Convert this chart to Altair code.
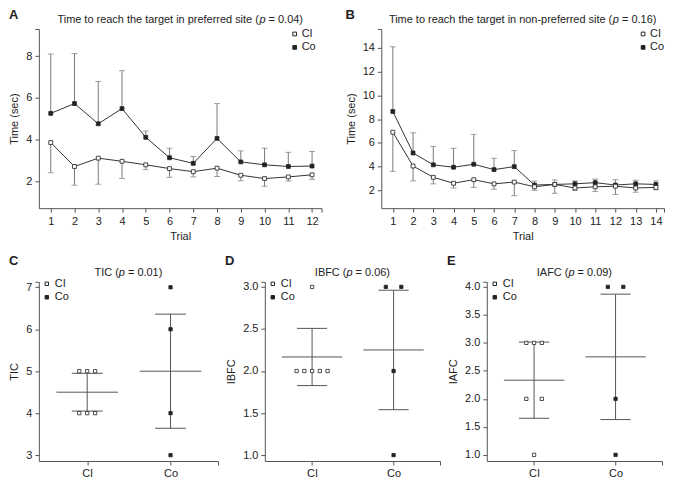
import altair as alt
import pandas as pd

FONT = "Liberation Sans"
DARK = "#222222"
LINE = "#333333"
ERR = "#7a7a7a"
AXIS = "#555555"

# ---------------- data ----------------
groups = ["CI", "Co"]

trials_a = list(range(1, 13))
a_co_mean = [5.25, 5.72, 4.75, 5.48, 4.10, 3.12, 2.85, 4.05, 2.92, 2.78, 2.70, 2.72]
a_co_upper = [8.10, 8.12, 6.78, 7.30, 4.40, 3.58, 3.18, 5.72, 3.45, 3.58, 3.38, 3.42]
a_ci_mean = [3.85, 2.70, 3.10, 2.95, 2.78, 2.60, 2.45, 2.62, 2.28, 2.12, 2.20, 2.30]
a_ci_lower = [2.40, 1.80, 1.85, 2.12, 2.55, 2.18, 2.20, 2.22, 2.02, 1.75, 2.00, 2.08]

trials_b = list(range(1, 15))
b_co_mean = [8.65, 5.15, 4.15, 3.95, 4.20, 3.75, 4.00, 2.45, 2.50, 2.55, 2.65, 2.45, 2.55, 2.50]
b_co_upper = [14.10, 6.85, 5.70, 5.55, 6.72, 4.70, 5.35, 2.78, 2.88, 2.80, 2.95, 2.90, 2.85, 2.80]
b_ci_mean = [6.90, 4.05, 3.10, 2.60, 2.90, 2.55, 2.70, 2.30, 2.50, 2.20, 2.30, 2.35, 2.20, 2.25]
b_ci_lower = [3.60, 2.80, 2.55, 2.20, 2.25, 2.10, 1.55, 2.00, 1.75, 2.00, 1.90, 1.65, 1.85, 2.05]

tic_ci = [5, 5, 5, 4, 4, 4]
tic_co = [7, 6, 4, 3]
tic_err = [0.45, 1.36]

ibfc_ci = [3, 2, 2, 2, 2, 2]
ibfc_co = [3, 3, 2, 1]
ibfc_err = [0.34, 0.71]

iafc_ci = [3, 3, 3, 2, 2, 1]
iafc_co = [4, 4, 2, 1]
iafc_err = [0.68, 1.12]

# --------------- helpers ---------------
ARIAL = {
    " ": 278, "T": 611, "i": 222, "m": 833, "e": 556, "t": 278, "o": 556, "r": 333,
    "a": 556, "c": 500, "h": 556, "g": 556, "n": 556, "p": 556, "f": 278, "d": 556,
    "s": 500, "(": 333, ")": 333, "=": 584, ".": 278, "-": 333, "C": 722, "I": 278,
    "B": 667, "F": 611, "A": 667, "l": 222,
}


def tw(s, size=11):
    return sum(ARIAL.get(ch, 556) for ch in s) * size / 1000.0


def txt(s, x, y, align="left", baseline="alphabetic", size=11, weight="normal", style="normal"):
    return alt.Chart(pd.DataFrame({"t": [s]})).mark_text(
        align=align, baseline=baseline, fontSize=size, font=FONT, color=DARK,
        fontWeight=weight, fontStyle=style,
    ).encode(x=alt.value(x), y=alt.value(y), text="t:N")


def title_layers(pre, post, center, y):
    post = post.strip()
    w1, wp, ws, w3 = tw(pre), tw("p"), tw(" "), tw(post)
    start = center - (w1 + wp + ws + w3) / 2
    return [
        txt(pre, start, y),
        txt("p", start + w1, y, style="italic"),
        txt(post, start + w1 + wp + ws, y),
    ]


def legend_layers(sq_x, txt_x, y0, dy, size):
    out = []
    for k, g in enumerate(groups):
        fill = "white" if g == "CI" else DARK
        out.append(
            alt.Chart(pd.DataFrame({"g": [g]})).mark_point(
                shape="square", filled=True, fill=fill, stroke=DARK, strokeWidth=1,
                size=size, opacity=1,
            ).encode(x=alt.value(sq_x), y=alt.value(y0 + k * dy))
        )
        out.append(txt(g, txt_x, y0 + k * dy, baseline="middle"))
    return out


def x_axis_trials(n, end, title):
    vals = list(range(1, n + 1)) + [end]
    return alt.Axis(values=vals, title=title,
                    labelExpr=f"datum.value > {n + 0.2} ? '' : datum.label",
                    labelFlush=False, labelOverlap=False, grid=False)


def y_axis(vals, end, title, fmt):
    v = vals + [end]
    return alt.Axis(values=v, title=title,
                    labelExpr=f"datum.value > {vals[-1] + 0.01} ? '' : format(datum.value, '{fmt}')",
                    labelFlush=False, labelOverlap=False, grid=False)


def line_panel(letter, lx, trials, co_m, co_up, ci_m, ci_lo, xdom, ydom, yvals, pre, post, w, h, leg):
    co = pd.DataFrame({"trial": trials, "mean": co_m, "err": co_up})
    ci = pd.DataFrame({"trial": trials, "mean": ci_m, "err": ci_lo})
    xs = alt.Scale(domain=xdom, nice=False, zero=False)
    ys = alt.Scale(domain=ydom, nice=False, zero=False)
    xax = x_axis_trials(len(trials), xdom[1], "Trial")
    yax = y_axis(yvals, ydom[1], "Time (sec)", "d")
    X = alt.X("trial:Q", scale=xs, axis=xax)
    Y = alt.Y("mean:Q", scale=ys, axis=yax)
    layers = []
    for df in (co, ci):
        base = alt.Chart(df)
        layers.append(base.mark_rule(color=ERR, strokeWidth=1).encode(x=X, y=Y, y2="err:Q"))
        layers.append(base.mark_tick(color=ERR, orient="horizontal", size=6, thickness=1).encode(
            x=X, y=alt.Y("err:Q", scale=ys, axis=yax)))
    for df in (co, ci):
        layers.append(alt.Chart(df).mark_line(color=LINE, strokeWidth=1).encode(x=X, y=Y))
    layers.append(alt.Chart(co).mark_point(shape="square", filled=True, fill=DARK, stroke=DARK,
                                            strokeWidth=0.8, size=15, opacity=1).encode(x=X, y=Y))
    layers.append(alt.Chart(ci).mark_point(shape="square", filled=True, fill="white", stroke=LINE,
                                            strokeWidth=0.9, size=15, opacity=1).encode(x=X, y=Y))
    layers += title_layers(pre, post, w / 2, -6.5)
    layers.append(txt(letter, lx, -20, baseline="top", size=13, weight="bold"))
    layers += legend_layers(leg[0], leg[1], 5, 13.5, 14)
    return alt.layer(*layers).properties(width=w, height=h)


def jitter(vals, step=0.095):
    counts = {}
    for v in vals:
        counts[v] = counts.get(v, 0) + 1
    seen = {}
    out = []
    for v in vals:
        n = counts[v]
        i = seen.get(v, 0)
        seen[v] = i + 1
        if n % 2 == 1:
            k = i - (n - 1) / 2
        else:
            k = i - n / 2 + (1 if i >= n / 2 else 0)
        out.append(k * step)
    return out


def scatter_panel(letter, lx, ci_vals, co_vals, errs, ydom, yvals, fmt, ytitle, pre, post, w, h):
    xdom = [0.42, 2.57]
    xs = alt.Scale(domain=xdom, nice=False, zero=False)
    ys = alt.Scale(domain=ydom, nice=False, zero=False)
    lab = f"datum.value == 1 ? '{groups[0]}' : datum.value == 2 ? '{groups[1]}' : ''"
    xax = alt.Axis(values=[1, 2, xdom[1]], title=None, labelExpr=lab, labelFlush=False,
                   labelOverlap=False, grid=False)
    yax = y_axis(yvals, ydom[1], ytitle, fmt)
    pts = []
    for gi, vals in enumerate((ci_vals, co_vals)):
        j = jitter(vals)
        pts.append(pd.DataFrame({"x": [gi + 1 + d for d in j], "v": vals}))
    means = [sum(v) / len(v) for v in (ci_vals, co_vals)]
    st = pd.DataFrame({"gx": [1, 2], "mean": means, "err": errs})
    st["lo"] = st["mean"] - st["err"]
    st["hi"] = st["mean"] + st["err"]
    st["m1"] = st["gx"] - 0.37
    st["m2"] = st["gx"] + 0.37
    st["c1"] = st["gx"] - 0.185
    st["c2"] = st["gx"] + 0.185
    Xg = alt.X("gx:Q", scale=xs, axis=xax)
    base = alt.Chart(st)
    layers = [
        base.mark_rule(color=AXIS, strokeWidth=1).encode(
            x=alt.X("m1:Q", scale=xs, axis=xax), x2="m2:Q",
            y=alt.Y("mean:Q", scale=ys, axis=yax)),
        base.mark_rule(color=AXIS, strokeWidth=1).encode(
            x=Xg, y=alt.Y("lo:Q", scale=ys, axis=yax), y2="hi:Q"),
        base.mark_rule(color=AXIS, strokeWidth=1).encode(
            x=alt.X("c1:Q", scale=xs, axis=xax), x2="c2:Q",
            y=alt.Y("lo:Q", scale=ys, axis=yax)),
        base.mark_rule(color=AXIS, strokeWidth=1).encode(
            x=alt.X("c1:Q", scale=xs, axis=xax), x2="c2:Q",
            y=alt.Y("hi:Q", scale=ys, axis=yax)),
    ]
    for gi, df in enumerate(pts):
        fill = "white" if gi == 0 else DARK
        layers.append(alt.Chart(df).mark_point(shape="square", filled=True, fill=fill, stroke=DARK,
                                                strokeWidth=0.8, size=11, opacity=1).encode(
            x=alt.X("x:Q", scale=xs, axis=xax), y=alt.Y("v:Q", scale=ys, axis=yax)))
    layers += title_layers(pre, post, w / 2, -6)
    layers.append(txt(letter, lx, -27, baseline="top", size=13, weight="bold"))
    layers += legend_layers(8, 16, 2, 13.5, 12)
    return alt.layer(*layers).properties(width=w, height=h)


A = line_panel("A", -30, trials_a, a_co_mean, a_co_upper, a_ci_mean, a_ci_lower,
               [0.5, 12.4], [0.7, 9.3], [2, 4, 6, 8],
               "Time to reach the target in preferred site (", " = 0.04)", 284, 180, (257, 264))
B = line_panel("B", -36, trials_b, b_co_mean, b_co_upper, b_ci_mean, b_ci_lower,
               [0.43, 14.4], [0.5, 15.6], [2, 4, 6, 8, 10, 12, 14],
               "Time to reach the target in non-preferred site (", " = 0.16)", 284, 180, (263, 270))
C = scatter_panel("C", -30, tic_ci, tic_co, tic_err, [2.86, 7.13], [3, 4, 5, 6, 7], "d", "TIC",
                  "TIC (", " = 0.01)", 180, 180)
D = scatter_panel("D", -40, ibfc_ci, ibfc_co, ibfc_err, [0.93, 3.06], [1.0, 1.5, 2.0, 2.5, 3.0], ".1f",
                  "IBFC", "IBFC (", " = 0.06)", 176, 180)
E = scatter_panel("E", -40, iafc_ci, iafc_co, iafc_err, [0.89, 4.09], [1.0, 1.5, 2.0, 2.5, 3.0, 3.5, 4.0],
                  ".1f", "IAFC", "IAFC (", " = 0.09)", 176, 180)

top = alt.hconcat(A, B, spacing=22)
bottom = alt.hconcat(C, D, E, spacing=6)
chart = alt.vconcat(top, bottom, spacing=14).properties(padding=0).configure_view(
    strokeWidth=0
).configure_axis(
    labelFont=FONT, titleFont=FONT, labelFontSize=11, titleFontSize=11,
    titleFontWeight="normal", labelColor=DARK, titleColor=DARK,
    domainColor=AXIS, tickColor=AXIS, tickSize=4, labelPadding=3,
).configure_axisY(titlePadding=6).configure_axisX(titlePadding=4)

chart.save("out.html", embed_options={"renderer": "svg", "actions": False})
